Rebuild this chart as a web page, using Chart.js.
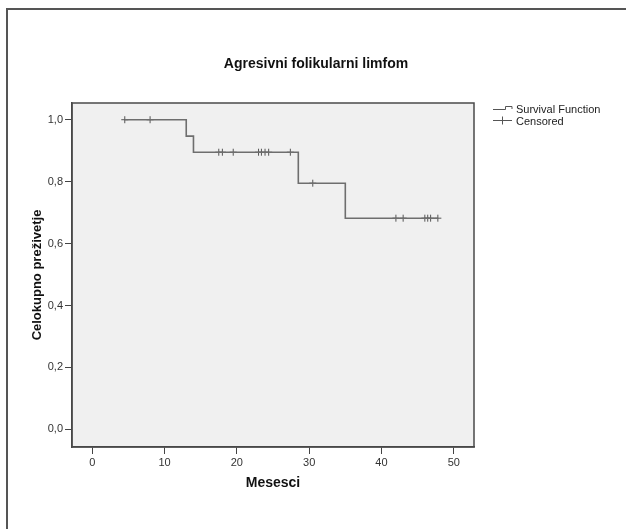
<!DOCTYPE html>
<html lang="sr">
<head>
    <meta charset="UTF-8" />
    <script src="https://cdn.jsdelivr.net/npm/chart.js"></script>
    <title>Agresivni folikularni limfom</title>
    <style>
        body { margin: 0; background: #fff; }
        #wrap { width: 626px; height: 529px; }
    </style>
</head>
<body>
    <div id="wrap"><canvas id="km" width="626" height="529"></canvas></div>

    <script>
        // Kaplan-Meier: vremena dogadjaja i nivoi prezivljavanja (ocitano sa slike)
        const eventTimes = [4.5, 13.0, 14.0, 28.5, 35.0, 47.8];
        const survivalLevels = [1.0, 0.947, 0.895, 0.795, 0.682, 0.682];

        // cenzurisani slucajevi
        const censorTimes = [4.5, 8.0, 17.5, 18.0, 19.5, 23.0, 23.4, 23.9, 24.4, 27.4, 30.5, 42.0, 43.0, 46.0, 46.4, 46.8, 47.8];
        const censorLevels = [1.0, 1.0, 0.895, 0.895, 0.895, 0.895, 0.895, 0.895, 0.895, 0.895, 0.795, 0.682, 0.682, 0.682, 0.682, 0.682, 0.682];

        const xTicks = [0, 10, 20, 30, 40, 50];
        const yTicks = [0, 0.2, 0.4, 0.6, 0.8, 1.0];

        const titleText = 'Agresivni folikularni limfom';
        const legendLabels = ['Survival Function', 'Censored'];

        const fontFam = '"Liberation Sans", Arial, sans-serif';

        // okvir, pozadina grafika, naslov i legenda
        const spssLook = {
            id: 'spssLook',
            beforeDraw(chart) {
                const c = chart.ctx;
                const a = chart.chartArea;
                c.save();
                c.fillStyle = '#fff';
                c.fillRect(0, 0, chart.width, chart.height);
                // spoljasnji okvir (gore i levo)
                c.strokeStyle = '#555';
                c.lineWidth = 2;
                c.beginPath();
                c.moveTo(7, chart.height);
                c.lineTo(7, 9);
                c.lineTo(chart.width, 9);
                c.stroke();
                // pozadina oblasti
                c.fillStyle = '#f0f0f0';
                c.fillRect(a.left, a.top, a.right - a.left, a.bottom - a.top);
                c.restore();
            },
            afterDraw(chart) {
                const c = chart.ctx;
                const a = chart.chartArea;
                c.save();
                c.strokeStyle = '#4a4a4a';
                c.lineWidth = 1.5;
                c.strokeRect(a.left, a.top, a.right - a.left, a.bottom - a.top);

                c.fillStyle = '#111';
                c.font = 'bold 14px ' + fontFam;
                c.textAlign = 'center';
                c.textBaseline = 'middle';
                c.fillText(titleText, 316, 64);

                // legenda
                c.strokeStyle = '#555';
                c.lineWidth = 1;
                c.beginPath();
                c.moveTo(493, 109.5);
                c.lineTo(505.5, 109.5);
                c.lineTo(505.5, 106.5);
                c.lineTo(512, 106.5);
                c.lineTo(512, 109);
                c.moveTo(493, 120.5);
                c.lineTo(512, 120.5);
                c.moveTo(502.5, 116.5);
                c.lineTo(502.5, 124.5);
                c.stroke();
                c.fillStyle = '#222';
                c.font = '11px ' + fontFam;
                c.textAlign = 'left';
                c.fillText(legendLabels[0], 516, 110);
                c.fillText(legendLabels[1], 516, 122);
                c.restore();
            }
        };

        const survivalPts = eventTimes.map((t, i) => ({ x: t, y: survivalLevels[i] }));
        const censorPts = censorTimes.map((t, i) => ({ x: t, y: censorLevels[i] }));

        new Chart(document.getElementById('km'), {
            type: 'scatter',
            data: {
                datasets: [{
                    label: legendLabels[0],
                    type: 'line',
                    data: survivalPts,
                    stepped: 'before',
                    borderColor: '#6e6e6e',
                    borderWidth: 1.6,
                    pointRadius: 0,
                    fill: false
                }, {
                    label: legendLabels[1],
                    data: censorPts,
                    pointStyle: 'cross',
                    pointRadius: 3.5,
                    borderColor: '#555',
                    borderWidth: 1,
                    showLine: false
                }]
            },
            options: {
                responsive: false,
                animation: false,
                layout: { padding: { left: 0, right: 152, top: 103, bottom: 0 } },
                plugins: {
                    legend: { display: false },
                    title: { display: false },
                    tooltip: { enabled: false }
                },
                scales: {
                    x: {
                        type: 'linear',
                        min: -2.8,
                        max: 52.8,
                        afterBuildTicks: s => { s.ticks = xTicks.map(v => ({ value: v })); },
                        afterFit: s => { s.height = 82; },
                        grid: { drawOnChartArea: false, drawTicks: true, tickLength: 7, color: '#444', lineWidth: 1 },
                        border: { display: true, color: '#444', width: 1.5 },
                        ticks: {
                            padding: 2,
                            color: '#333',
                            font: { size: 11, family: fontFam },
                            callback: v => String(v)
                        },
                        title: {
                            display: true,
                            text: 'Mesesci',
                            color: '#111',
                            font: { size: 14, weight: 'bold', family: fontFam },
                            padding: { top: 0, bottom: 37 }
                        }
                    },
                    y: {
                        min: -0.057,
                        max: 1.054,
                        afterBuildTicks: s => { s.ticks = yTicks.map(v => ({ value: v })); },
                        afterFit: s => { s.width = 72; },
                        grid: { drawOnChartArea: false, drawTicks: true, tickLength: 7, color: '#444', lineWidth: 1 },
                        border: { display: true, color: '#444', width: 1.5 },
                        ticks: {
                            padding: 2,
                            color: '#333',
                            font: { size: 11, family: fontFam },
                            callback: v => v.toFixed(1).replace('.', ',')
                        },
                        title: {
                            display: true,
                            text: 'Celokupno preživetje',
                            color: '#111',
                            font: { size: 13, weight: 'bold', family: fontFam },
                            padding: { top: 30, bottom: 0 }
                        }
                    }
                }
            },
            plugins: [spssLook]
        });
    </script>
</body>
</html>
